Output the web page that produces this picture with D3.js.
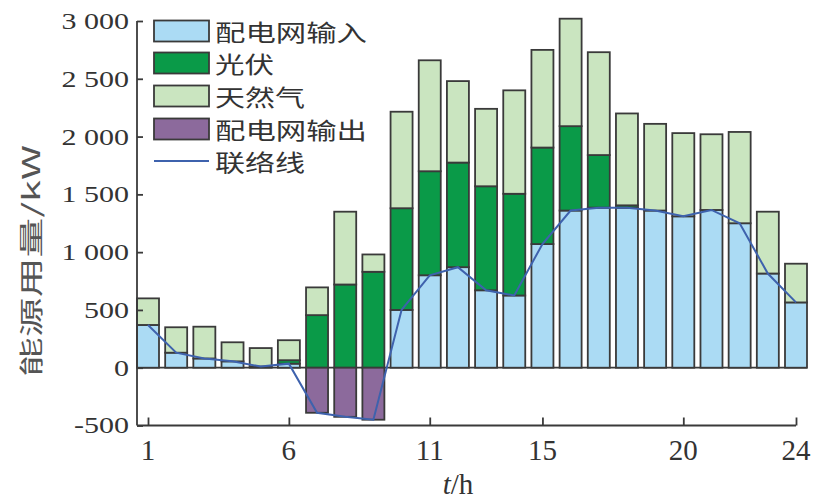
<!DOCTYPE html>
<html><head><meta charset="utf-8">
<script src="https://cdn.jsdelivr.net/npm/d3@7"></script>
<style>body{margin:0;background:#fff}svg{display:block}</style>
</head><body>
<svg id="c" width="813" height="502"></svg>
<script>
const hours = d3.range(1, 25);
const gridIn  = [370,130,80,55,10,35,0,0,0,500,800,870,670,625,1070,1360,1385,1385,1360,1310,1365,1250,815,565];
const pv      = [0,0,0,0,0,30,455,720,830,880,900,905,900,880,835,730,455,20,0,0,0,0,0,0];
const gas     = [230,220,275,165,160,173,240,630,150,835,960,705,670,895,845,930,890,795,750,720,655,790,535,335];
const gridOut = [0,0,0,0,0,0,390,425,450,0,0,0,0,0,0,0,0,0,0,0,0,0,0,0];
const tieLine = gridIn.map((v,i)=>v-gridOut[i]);
const yTicks = [-500,0,500,1000,1500,2000,2500,3000];
const yTickLabels = ["-500","0","500","1 000","1 500","2 000","2 500","3 000"];
const xTicks = [1,6,11,15,20,24];
const legendNames = ["配电网输入","光伏","天然气","配电网输出","联络线"];
const colors = {gridIn:"#abdbf4", pv:"#0a9a48", gas:"#cae5c0", gridOut:"#8c6a9c", line:"#3e62ad"};

const svg = d3.select("#c");
const y = d3.scaleLinear().domain([-500,3000]).range([425.5,21]);
const x = d3.scaleLinear().domain([1,24]).range([148,796]);
const bw = 22;
const stroke = "#3a3a3a";
const serif = "'Liberation Serif','Times New Roman',serif";
const cjk = "'Noto Sans CJK SC','Noto Sans',sans-serif";

// zero line
svg.append("line").attr("x1",137).attr("x2",x(24)+bw/2).attr("y1",y(0)).attr("y2",y(0))
  .attr("stroke",stroke).attr("stroke-width",1.8);

// stacked bars
const g = svg.append("g");
hours.forEach((h,i)=>{
  const segs = [
    {y0:0, y1:gridIn[i], c:colors.gridIn},
    {y0:gridIn[i], y1:gridIn[i]+pv[i], c:colors.pv},
    {y0:gridIn[i]+pv[i], y1:gridIn[i]+pv[i]+gas[i], c:colors.gas},
    {y0:-gridOut[i], y1:0, c:colors.gridOut}
  ];
  segs.forEach(s=>{
    if (s.y1 - s.y0 <= 0) return;
    g.append("rect").attr("x",x(h)-bw/2).attr("width",bw)
      .attr("y",y(s.y1)).attr("height",y(s.y0)-y(s.y1))
      .attr("fill",s.c).attr("stroke",stroke).attr("stroke-width",1.8);
  });
});

// tie line
svg.append("path").datum(hours)
  .attr("d", d3.line().x(h=>x(h)).y((h,i)=>y(tieLine[i])))
  .attr("fill","none").attr("stroke",colors.line).attr("stroke-width",2);

// y axis
const yAxis = svg.append("g").attr("transform","translate(137,0)")
  .call(d3.axisRight(y).tickValues(yTicks).tickSize(6).tickFormat(""));
yAxis.select(".domain").attr("d",`M0,${y(3000)}V${y(-500)}`).attr("stroke",stroke).attr("stroke-width",1.8);
yAxis.selectAll(".tick line").attr("stroke",stroke).attr("stroke-width",1.8);
yTicks.forEach((t,i)=>{
  svg.append("text").attr("x",0).attr("y",0)
    .attr("font-family",serif).attr("font-size",24).attr("fill","#333")
    .attr("text-anchor","end").attr("dominant-baseline","central")
    .attr("transform",`translate(129,${y(t)}) scale(1.25,1)`).text(yTickLabels[i]);
});

// x axis
const xAxis = svg.append("g").attr("transform",`translate(0,${y(-500)})`)
  .call(d3.axisTop(x).tickValues(xTicks).tickSize(8).tickFormat(""));
xAxis.select(".domain").attr("d",`M137,0H${x(24)}`).attr("stroke",stroke).attr("stroke-width",1.8);
xAxis.selectAll(".tick line").attr("stroke",stroke).attr("stroke-width",1.8);
xTicks.forEach(t=>{
  svg.append("text").attr("x",x(t)).attr("y",460)
    .attr("font-family",serif).attr("font-size",29).attr("fill","#333")
    .attr("text-anchor","middle").text(t);
});
const xl = svg.append("text").attr("x",458).attr("y",494).attr("font-family",serif)
  .attr("font-size",29).attr("fill","#333").attr("text-anchor","middle");
xl.append("tspan").attr("font-style","italic").text("t");
xl.append("tspan").text("/h");

// y title
svg.append("text").attr("transform","translate(40,261) rotate(-90)")
  .attr("font-family",cjk).attr("font-size",24).attr("fill","#555")
  .attr("text-anchor","middle").attr("textLength",232).attr("lengthAdjust","spacingAndGlyphs")
  .text("能源用量/kW");

// legend
const lg = svg.append("g");
const rowsY = [31,63,96,129,161];
const fills = [colors.gridIn, colors.pv, colors.gas, colors.gridOut];
legendNames.forEach((n,i)=>{
  if (i<4) {
    lg.append("rect").attr("x",154).attr("y",rowsY[i]-10.5).attr("width",55).attr("height",21)
      .attr("fill",fills[i]).attr("stroke",stroke).attr("stroke-width",1.8);
  } else {
    lg.append("line").attr("x1",154).attr("x2",209).attr("y1",rowsY[i]).attr("y2",rowsY[i])
      .attr("stroke",colors.line).attr("stroke-width",2);
  }
  lg.append("text").attr("x",215).attr("y",rowsY[i]).attr("dominant-baseline","central")
    .attr("font-family",cjk).attr("font-size",22.5).attr("fill","#333")
    .attr("textLength",n.length*31-3).attr("lengthAdjust","spacingAndGlyphs").text(n);
});
</script>
</body></html>
